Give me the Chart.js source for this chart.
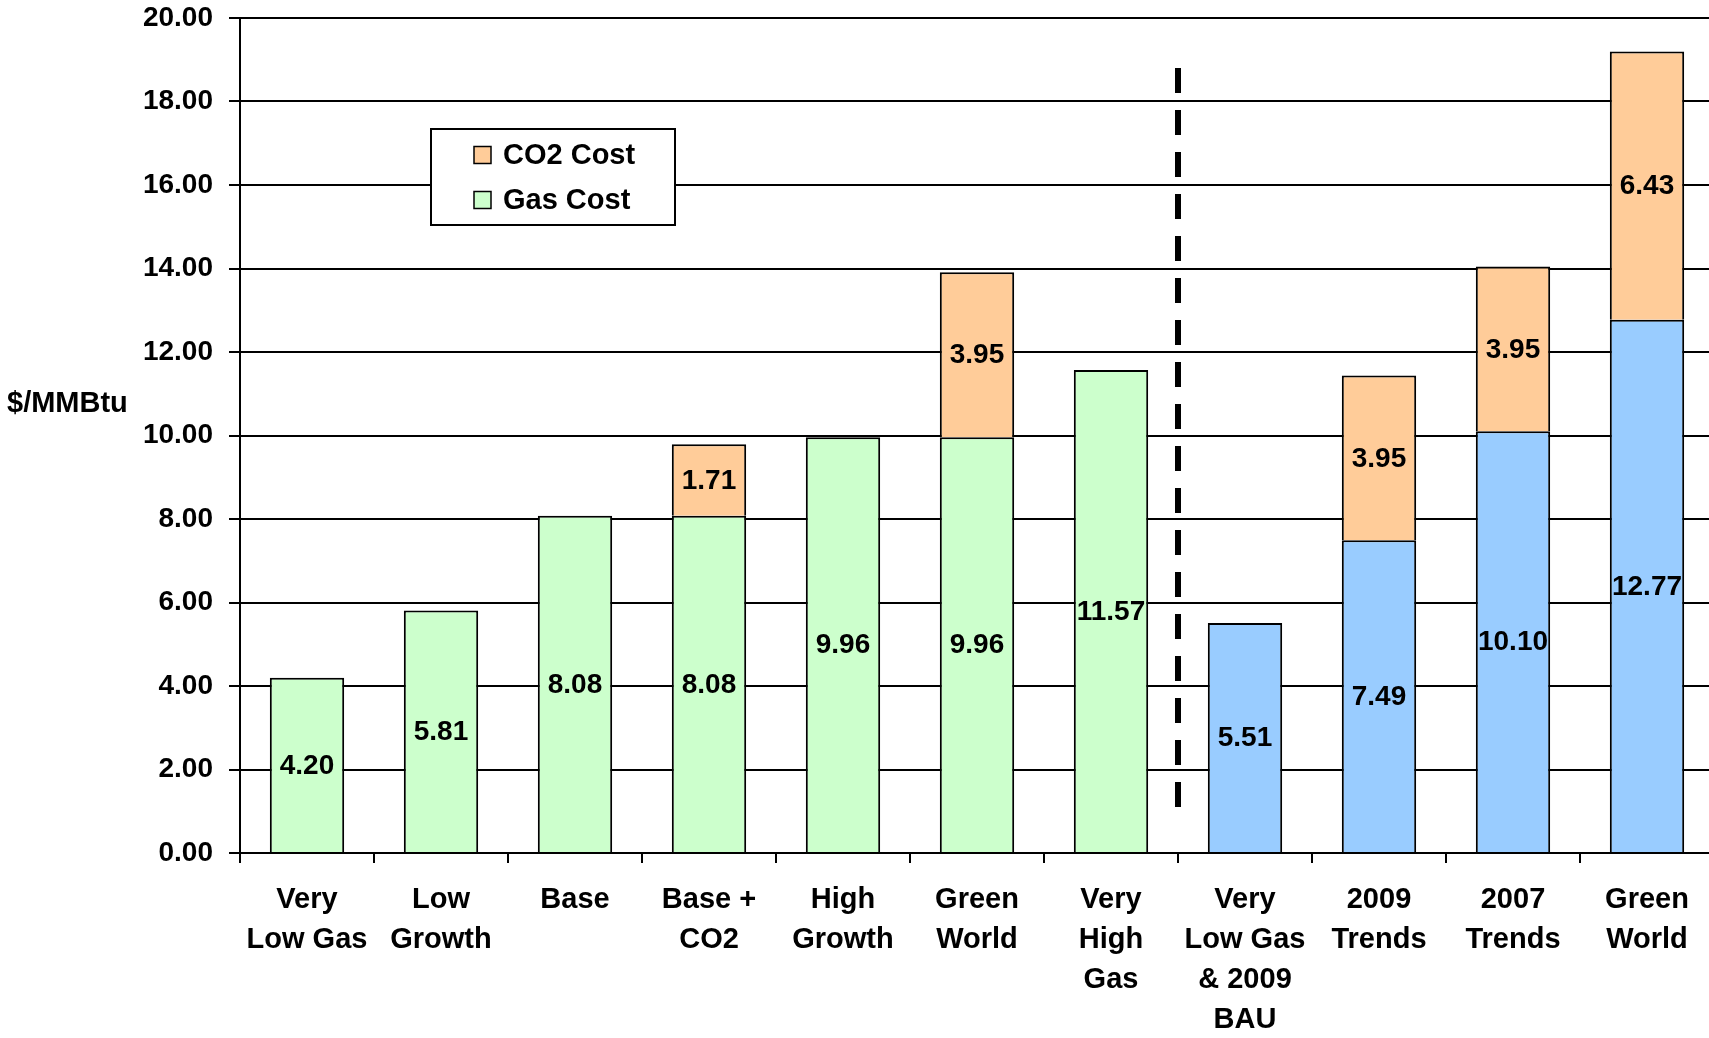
<!DOCTYPE html>
<html>
<head>
<meta charset="utf-8">
<script src="https://cdn.jsdelivr.net/npm/chart.js@4/dist/chart.umd.min.js"></script>
<style>
  html, body { margin: 0; padding: 0; overflow: hidden; background: #fff; }
  #wrap { position: relative; width: 1716px; height: 1038px; }
</style>
</head>
<body>
<div id="wrap"><canvas id="c" width="1716" height="1038"></canvas></div>
<script>
// Scenario names (multi-line tick labels)
const categories = [
  ["Very", "Low Gas"],
  ["Low", "Growth"],
  ["Base"],
  ["Base +", "CO2"],
  ["High", "Growth"],
  ["Green", "World"],
  ["Very", "High", "Gas"],
  ["Very", "Low Gas", "& 2009", "BAU"],
  ["2009", "Trends"],
  ["2007", "Trends"],
  ["Green", "World"]
];

// Delivered cost components, $/MMBtu
const gasCost = [4.20, 5.81, 8.08, 8.08, 9.96, 9.96, 11.57, 5.51, 7.49, 10.10, 12.77];
const co2Cost = [null, null, null, 1.71, null, 3.95, null, null, 3.95, 3.95, 6.43];

// Y axis range and spacing
const yMin = 0;
const yMax = 20;
const yStep = 2;

// Scenarios after this index belong to the second group (drawn blue, right of the divider)
const lastFirstGroupIndex = 6;
// Vertical extent of the dashed divider, in axis units
const dividerTop = 18.8;
const dividerBottom = 1.1;

const FONT = "'Liberation Sans', Arial, Helvetica, sans-serif";
const GREEN = '#CCFFCC';
const BLUE = '#99CCFF';
const ORANGE = '#FFCC99';

const segmentLabels = {
  id: 'segmentLabels',
  afterDatasetsDraw(chart) {
    const ctx = chart.ctx;
    ctx.save();
    ctx.font = `bold 28px ${FONT}`;
    ctx.fillStyle = '#000';
    ctx.textAlign = 'center';
    ctx.textBaseline = 'middle';
    chart.data.datasets.forEach((ds, di) => {
      const meta = chart.getDatasetMeta(di);
      meta.data.forEach((bar, i) => {
        const v = ds.data[i];
        if (v === null || v === undefined) return;
        const { x, y, base } = bar.getProps(['x', 'y', 'base'], true);
        ctx.fillText(v.toFixed(2), x, (y + base) / 2 + 1);
      });
    });
    ctx.restore();
  }
};

const divider = {
  id: 'divider',
  afterDatasetsDraw(chart) {
    const { ctx, scales: { x, y } } = chart;
    const px = (x.getPixelForValue(lastFirstGroupIndex) + x.getPixelForValue(lastFirstGroupIndex + 1)) / 2;
    ctx.save();
    ctx.strokeStyle = '#000';
    ctx.lineWidth = 6;
    ctx.setLineDash([25, 17]);
    ctx.lineCap = 'butt';
    ctx.beginPath();
    ctx.moveTo(px, y.getPixelForValue(dividerTop));
    ctx.lineTo(px, y.getPixelForValue(dividerBottom));
    ctx.stroke();
    ctx.restore();
  }
};

const boxLegend = {
  id: 'boxLegend',
  afterDraw(chart) {
    const { ctx, chartArea } = chart;
    const bx = chartArea.left + 191, by = 129, bw = 244, bh = 96;
    ctx.save();
    ctx.fillStyle = '#fff';
    ctx.fillRect(bx, by, bw, bh);
    ctx.strokeStyle = '#000';
    ctx.lineWidth = 2;
    ctx.strokeRect(bx, by, bw, bh);
    const items = [
      { text: chart.data.datasets[1].label, color: ORANGE, cy: by + 26 },
      { text: chart.data.datasets[0].label, color: GREEN, cy: by + 71 }
    ];
    ctx.font = `bold 29px ${FONT}`;
    ctx.textAlign = 'left';
    ctx.textBaseline = 'middle';
    items.forEach(it => {
      const s = 17;
      ctx.fillStyle = it.color;
      ctx.fillRect(bx + 43, it.cy - s / 2, s, s);
      ctx.lineWidth = 1.5;
      ctx.strokeStyle = '#000';
      ctx.strokeRect(bx + 43, it.cy - s / 2, s, s);
      ctx.fillStyle = '#000';
      ctx.fillText(it.text, bx + 72, it.cy + 1);
    });
    ctx.restore();
  }
};

const unitLabel = {
  id: 'unitLabel',
  afterDraw(chart) {
    const { ctx, scales: { y } } = chart;
    ctx.save();
    ctx.font = `bold 29px ${FONT}`;
    ctx.fillStyle = '#000';
    ctx.textAlign = 'left';
    ctx.textBaseline = 'middle';
    ctx.fillText('$/MMBtu', 7, y.getPixelForValue(10.75));
    ctx.restore();
  }
};

new Chart(document.getElementById('c'), {
  type: 'bar',
  data: {
    labels: categories,
    datasets: [
      {
        label: 'Gas Cost',
        data: gasCost,
        backgroundColor: c => (c.dataIndex > lastFirstGroupIndex ? BLUE : GREEN),
        borderColor: '#000',
        borderWidth: 2,
        stack: 'cost',
        barPercentage: 0.555,
        categoryPercentage: 1
      },
      {
        label: 'CO2 Cost',
        data: co2Cost,
        backgroundColor: ORANGE,
        borderColor: '#000',
        borderWidth: 2,
        stack: 'cost',
        barPercentage: 0.555,
        categoryPercentage: 1
      }
    ]
  },
  options: {
    responsive: false,
    animation: false,
    devicePixelRatio: 1,
    layout: { padding: { top: 18, right: 2, bottom: 0, left: 0 } },
    plugins: {
      legend: { display: false },
      tooltip: { enabled: false }
    },
    scales: {
      x: {
        stacked: true,
        grid: {
          display: true,
          drawOnChartArea: false,
          offset: true,
          tickLength: 10,
          color: '#000',
          lineWidth: 2
        },
        border: { color: '#000', width: 2 },
        ticks: {
          autoSkip: false,
          maxRotation: 0,
          minRotation: 0,
          padding: 17,
          color: '#000',
          font: { family: FONT, size: 29, weight: 'bold', lineHeight: 40 / 29 }
        },
        afterFit(scale) {
          scale.height = 185;
          scale.paddingLeft = 0;
          scale.paddingRight = 0;
        }
      },
      y: {
        stacked: true,
        min: yMin,
        max: yMax,
        ticks: {
          stepSize: yStep,
          padding: 16,
          color: '#000',
          font: { family: FONT, size: 28, weight: 'bold' },
          callback: v => Number(v).toFixed(2)
        },
        grid: { color: '#000', lineWidth: 2, tickLength: 11 },
        border: { color: '#000', width: 2 },
        afterFit(scale) {
          scale.width = 240;
          scale.paddingTop = 0;
          scale.paddingBottom = 0;
        }
      }
    }
  },
  plugins: [segmentLabels, divider, boxLegend, unitLabel]
});
</script>
</body>
</html>
